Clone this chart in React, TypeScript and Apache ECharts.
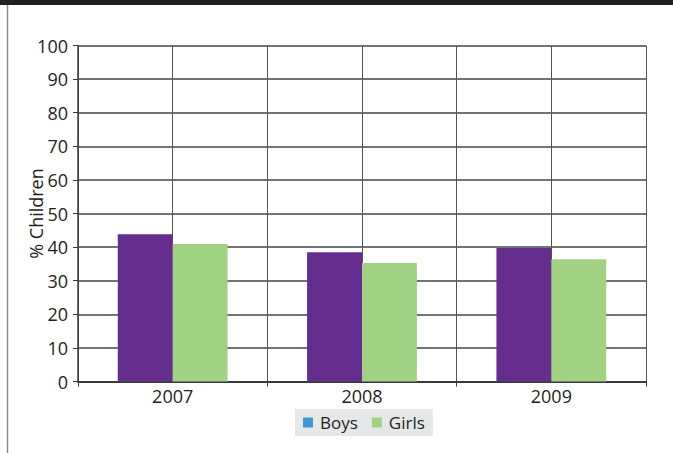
import React, { useEffect, useRef } from "react";
import * as echarts from "echarts";

const years = ["2007", "2008", "2009"];
const boys = [43.8, 38.5, 39.7];
const girls = [40.9, 35.3, 36.4];
const yTicks = { min: 0, max: 100, interval: 10 };

export default function App() {
  const ref = useRef<HTMLDivElement>(null);
  useEffect(() => {
    if (!ref.current) return;
    const chart = echarts.init(ref.current, null, { renderer: "svg" });
    const font = "'Open Sans', 'Noto Sans', sans-serif";
    chart.setOption({
      animation: false,
      backgroundColor: "#ffffff",
      textStyle: { fontFamily: font },
      graphic: [
        { type: "rect", shape: { x: 0, y: 0, width: 673, height: 5 }, style: { fill: "#231f20" } },
        { type: "line", shape: { x1: 7.5, y1: 5, x2: 7.5, y2: 453 }, style: { stroke: "#8a8a8a", lineWidth: 1.5 } },
      ],
      grid: { left: 78, right: 27, top: 45.5, bottom: 71.5 },
      legend: {
        left: 295,
        top: 409,
        backgroundColor: "#e6e7e8",
        padding: [5, 8, 5, 8],
        itemWidth: 10,
        itemHeight: 10,
        itemGap: 14,
        icon: "rect",
        textStyle: { fontSize: 17, color: "#231f20", fontFamily: font, padding: [0, 0, 0, 2] },
        data: [
          { name: "Boys", itemStyle: { color: "#3a98d2" } },
          { name: "Girls", itemStyle: { color: "#a1d182" } },
        ],
      },
      xAxis: [
        {
          type: "category",
          data: years,
          boundaryGap: true,
          axisLine: { show: true, lineStyle: { color: "#3a3a3a", width: 2 } },
          axisTick: { show: true, inside: false, length: 5, alignWithLabel: false, lineStyle: { color: "#3a3a3a" } },
          axisLabel: { fontSize: 18, color: "#231f20", margin: 5, fontFamily: font },
          splitLine: { show: false },
        },
        {
          type: "value",
          min: 0,
          max: 6,
          interval: 1,
          position: "bottom",
          axisLine: { show: false },
          axisTick: { show: false },
          axisLabel: { show: false },
          splitLine: { show: true, lineStyle: { color: "#555555", width: 1 } },
        },
      ],
      yAxis: {
        type: "value",
        min: yTicks.min,
        max: yTicks.max,
        interval: yTicks.interval,
        name: "% Children",
        nameLocation: "middle",
        nameGap: 33,
        nameMoveOverlap: false,
        nameTextStyle: { fontSize: 18, color: "#231f20", fontFamily: font },
        axisLine: { show: true, lineStyle: { color: "#3a3a3a", width: 1.5 } },
        axisTick: { show: true, inside: false, length: 5, lineStyle: { color: "#3a3a3a" } },
        axisLabel: { fontSize: 18, color: "#231f20", margin: 10, fontFamily: font },
        splitLine: { show: true, lineStyle: { color: "#444444", width: 1.5 } },
      },
      series: [
        {
          name: "Boys",
          type: "bar",
          xAxisIndex: 0,
          data: boys,
          barGap: "0%",
          barCategoryGap: "42%",
          itemStyle: { color: "#652d8e" },
        },
        {
          name: "Girls",
          type: "bar",
          xAxisIndex: 0,
          data: girls,
          itemStyle: { color: "#a1d182" },
        },
      ],
    });
    return () => chart.dispose();
  }, []);
  return (
    <div
      ref={ref}
      style={{ position: "absolute", left: 0, top: 0, width: 673, height: 453 }}
    />
  );
}
